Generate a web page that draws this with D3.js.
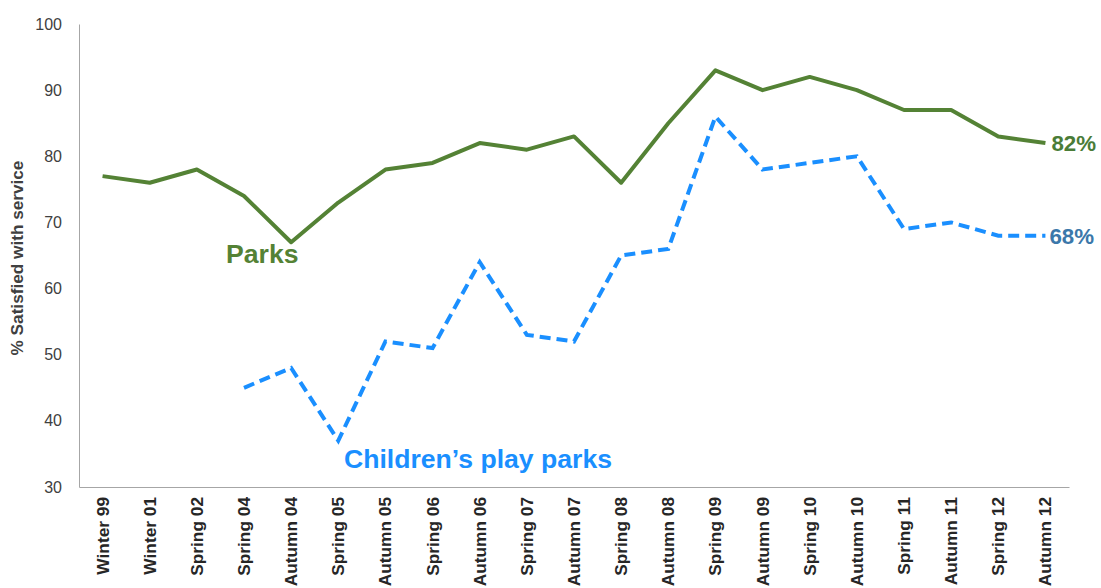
<!DOCTYPE html>
<html><head><meta charset="utf-8">
<script src="https://cdn.jsdelivr.net/npm/d3@7"></script>
<style>body{margin:0;background:#fff}svg{display:block}text{font-family:"Liberation Sans",Arial,sans-serif}</style>
</head><body><svg id="c" width="1101" height="588"></svg>
<script>
const categories = ["Winter 99","Winter 01","Spring 02","Spring 04","Autumn 04","Spring 05","Autumn 05","Spring 06","Autumn 06","Spring 07","Autumn 07","Spring 08","Autumn 08","Spring 09","Autumn 09","Spring 10","Autumn 10","Spring 11","Autumn 11","Spring 12","Autumn 12"];
const parks = [77,76,78,74,67,73,78,79,82,81,83,76,85,93,90,92,90,87,87,83,82];
const playParks = [null,null,null,45,48,37,52,51,64,53,52,65,66,86,78,79,80,69,70,68,68];
const yTicks = [30,40,50,60,70,80,90,100];

const svg = d3.select("#c");
const plotLeft = 79, plotRight = 1069, plotTop = 24, plotBottom = 487;
const x = d3.scaleBand().domain(categories).range([plotLeft, plotRight]).padding(0);
const cx = d => x(d) + x.bandwidth()/2;
const y = d3.scaleLinear().domain([30,100]).range([plotBottom, plotTop]);

// axes
const ya = svg.append("g").attr("transform",`translate(${plotLeft},0)`)
  .call(d3.axisLeft(y).tickValues(yTicks).tickSize(0).tickPadding(17));
ya.select(".domain").attr("stroke","#a6a6a6");
ya.selectAll("text").attr("font-size",16).attr("fill","#404040").style("font-family","Liberation Sans, Arial, sans-serif");

const xa = svg.append("g").attr("transform",`translate(0,${plotBottom})`)
  .call(d3.axisBottom(x).tickSize(0).tickPadding(0));
xa.select(".domain").attr("stroke","#a6a6a6");
xa.selectAll("text").attr("font-size",17.3).attr("font-weight","bold").attr("fill","#262626")
  .style("font-family","Liberation Sans, Arial, sans-serif")
  .attr("text-anchor","end").attr("transform","rotate(-90)")
  .attr("x",-10).attr("y",0).attr("dy","0.35em");

svg.append("text").attr("transform",`translate(23,258) rotate(-90)`)
  .attr("text-anchor","middle").attr("font-size",17.2).attr("font-weight","bold").attr("fill","#404040")
  .text("% Satisfied with service");

// lines
const line = d3.line().defined(d=>d!=null).x((d,i)=>cx(categories[i])).y(d=>y(d));
svg.append("path").datum(parks).attr("d",line).attr("fill","none")
  .attr("stroke","#548235").attr("stroke-width",4).attr("stroke-linejoin","round");
svg.append("path").datum(playParks).attr("d",line).attr("fill","none")
  .attr("stroke","#1a8fff").attr("stroke-width",4).attr("stroke-dasharray","11,6");

// labels
svg.append("text").attr("x",226).attr("y",263).attr("font-size",26.6).attr("font-weight","bold")
  .attr("fill","#548235").text("Parks");
svg.append("text").attr("x",344).attr("y",468).attr("font-size",26.6).attr("font-weight","bold")
  .attr("fill","#1a8fff").text("Children’s play parks");
const last = categories.length-1;
svg.append("text").attr("x",cx(categories[last])+6).attr("y",y(parks[last])).attr("dy","0.36em")
  .attr("font-size",22.3).attr("font-weight","bold").attr("fill","#4a7c37").text(parks[last]+"%");
svg.append("text").attr("x",cx(categories[last])+4).attr("y",y(playParks[last])).attr("dy","0.36em")
  .attr("font-size",22.3).attr("font-weight","bold").attr("fill","#3b78aa").text(playParks[last]+"%");
</script></body></html>
